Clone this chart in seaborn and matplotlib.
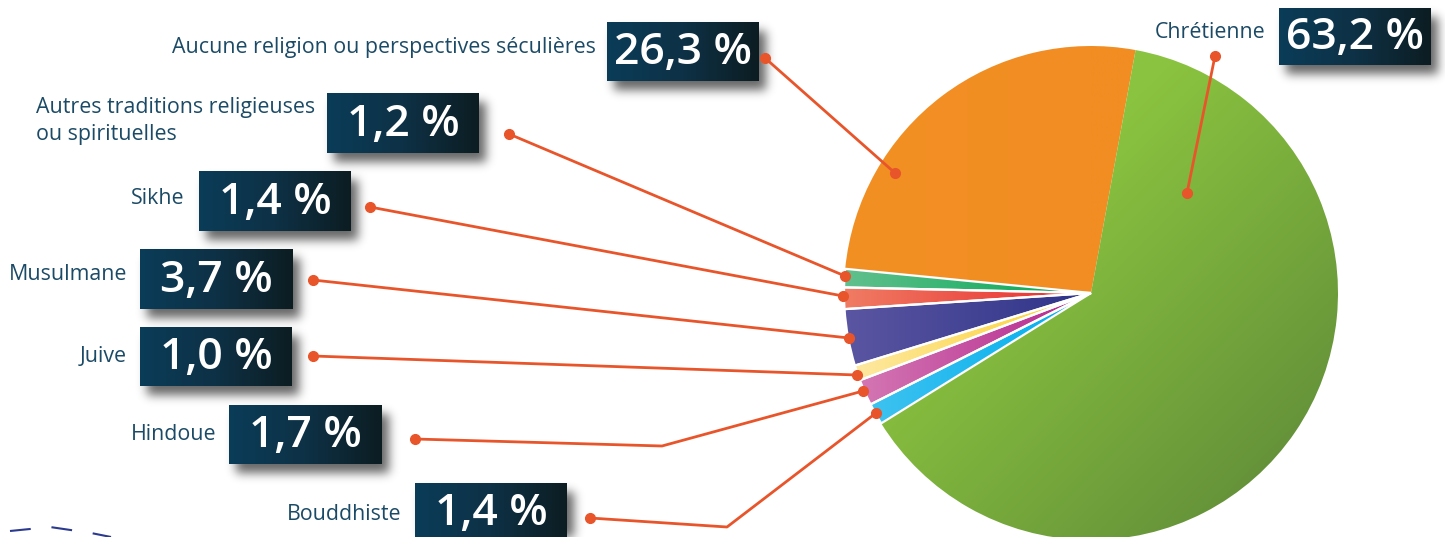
"""Pie chart of religious affiliation with boxed percentage call-outs."""

import matplotlib.pyplot as plt
import numpy as np
import seaborn as sns
from matplotlib.colors import LinearSegmentedColormap

# Data
categories = [
    "Aucune religion ou perspectives séculières",
    "Autres traditions religieuses\nou spirituelles",
    "Sikhe",
    "Musulmane",
    "Juive",
    "Hindoue",
    "Bouddhiste",
    "Chrétienne",
]
shares = [26.3, 1.2, 1.4, 3.7, 1.0, 1.7, 1.4, 63.2]

# Wedge colours (outer edge -> centre)
outer_colors = ["#f39024", "#62c08e", "#f07c64", "#5b56a2", "#fde9a6",
                "#d67cb6", "#45c5f0", "#8dc63f"]
inner_colors = ["#f18d22", "#00a650", "#e82a2c", "#2e3388", "#fdd12c",
                "#b4268d", "#00adee", "#5b8538"]

# Layout in image pixels (x right, y down)
W, H = 1445, 537
CX, CY, R = 1091, 293, 247
boxes = [
    (607, 22, 759, 81),
    (327, 93, 479, 153),
    (199, 171, 351, 231),
    (140, 249, 293, 309),
    (140, 327, 292, 386),
    (229, 405, 382, 464),
    (415, 483, 567, 542),
    (1279, 8, 1431, 65),
]
label_pos = [
    (596, 48, "right"),
    (36, 121, "left"),
    (184, 198, "right"),
    (127, 275, "right"),
    (127, 357, "right"),
    (216, 434, "right"),
    (401, 515, "right"),
    (1265, 32, "right"),
]
leaders = [
    [(765, 58), (895, 173)],
    [(509, 134), (845, 276)],
    [(370, 207), (843, 296)],
    [(313, 280), (849, 338)],
    [(313, 356), (857, 375)],
    [(415, 439), (662, 446), (863, 391)],
    [(590, 518), (727, 527), (876, 413)],
    [(1215, 56), (1187, 193)],
]

TEXT_COLOR = "#1b4a66"
LEADER_COLOR = "#e9552b"


def Y(y):
    """Convert image y (down) to axes y (up)."""
    return H - y


def gaussian_blur(a, sigma):
    n = int(3 * sigma)
    k = np.exp(-0.5 * (np.arange(-n, n + 1) / sigma) ** 2)
    k /= k.sum()
    a = np.apply_along_axis(lambda r: np.convolve(r, k, mode="same"), 0, a)
    a = np.apply_along_axis(lambda r: np.convolve(r, k, mode="same"), 1, a)
    return a


sns.set_theme(style="white")
plt.rcParams["font.family"] = ["Open Sans", "DejaVu Sans"]

fig = plt.figure(figsize=(W / 100, H / 100), dpi=100)
ax = fig.add_axes([0, 0, 1, 1])

# Pie
wedges, _ = ax.pie(
    shares,
    startangle=79.6,
    counterclock=True,
    center=(CX, Y(CY)),
    radius=R,
    wedgeprops=dict(linewidth=0),
)

pie_extent = (CX - R, CX + R, Y(CY) - R, Y(CY) + R)
for i, wedge in enumerate(wedges):
    if categories[i] == "Chrétienne":
        # diagonal gradient: light top-left, dark bottom-right
        cmap = LinearSegmentedColormap.from_list(
            f"w{i}", [(0, outer_colors[i]), (0.35, "#8ac33f"), (1, inner_colors[i])]
        )
        u = np.linspace(0, 1, 200)
        grad = (u[None, :] + u[:, None]) / 2
    else:
        # horizontal gradient: light at the outer left edge, dark at the centre
        cmap = LinearSegmentedColormap.from_list(
            f"w{i}", [outer_colors[i], inner_colors[i]]
        )
        grad = np.clip(np.linspace(0, 2, 512), 0, 1)[None, :]
    im = ax.imshow(grad, cmap=cmap, extent=pie_extent, origin="upper",
                   aspect="auto", zorder=1, interpolation="bilinear")
    im.set_clip_path(wedge)
    wedge.set_facecolor("none")
    wedge.set_zorder(2)
    if categories[i] not in ("Chrétienne", "Aucune religion ou perspectives séculières"):
        wedge.set_edgecolor("white")
        wedge.set_linewidth(1.6)

# Drop shadows of the call-out boxes
alpha = np.zeros((H, W))
for x0, y0, x1, y1 in boxes:
    alpha[max(y0 + 9, 0):min(y1 + 9, H), max(x0 + 7, 0):min(x1 + 7, W)] = 1.0
alpha = gaussian_blur(alpha, 5) * 0.6
shadow = np.zeros((H, W, 4))
shadow[..., 3] = alpha
ax.imshow(shadow, extent=(0, W, 0, H), origin="upper", aspect="auto", zorder=3)

# Call-out boxes
box_cmap = LinearSegmentedColormap.from_list("box", ["#0a3c58", "#0e3146", "#0c1d22"])
for (x0, y0, x1, y1), value in zip(boxes, shares):
    ax.imshow(np.linspace(0, 1, 256)[None, :], cmap=box_cmap,
              extent=(x0, x1, Y(y1), Y(y0)), origin="upper", aspect="auto",
              zorder=4)
    ax.text((x0 + x1) / 2, Y((y0 + min(y1, 542)) / 2 + 1),
            f"{value:.1f}".replace(".", ",") + " %",
            color="white", fontsize=32, fontweight="semibold",
            ha="center", va="center", zorder=5)

# Category labels
for name, (x, y, ha) in zip(categories, label_pos):
    ax.text(x, Y(y), name, color=TEXT_COLOR, fontsize=15.4, ha=ha, va="center",
            linespacing=1.4, zorder=5)

# Leader lines
for pts in leaders:
    xs = [p[0] for p in pts]
    ys = [Y(p[1]) for p in pts]
    ax.plot(xs, ys, color=LEADER_COLOR, lw=2, zorder=6, solid_capstyle="round")
    ax.plot([xs[0], xs[-1]], [ys[0], ys[-1]], "o", color=LEADER_COLOR,
            markersize=7, zorder=7)

# Decorative dashed stroke bottom-left
ax.plot([10, 50, 91, 111], [Y(531), Y(527), Y(533), Y(537)], color="#2b3a8f",
        lw=1.5, dashes=(10, 10), zorder=2)

ax.set_xlim(0, W)
ax.set_ylim(0, H)
ax.axis("off")
sns.despine(ax=ax, left=True, bottom=True)

fig.savefig("out.png", dpi=100)
